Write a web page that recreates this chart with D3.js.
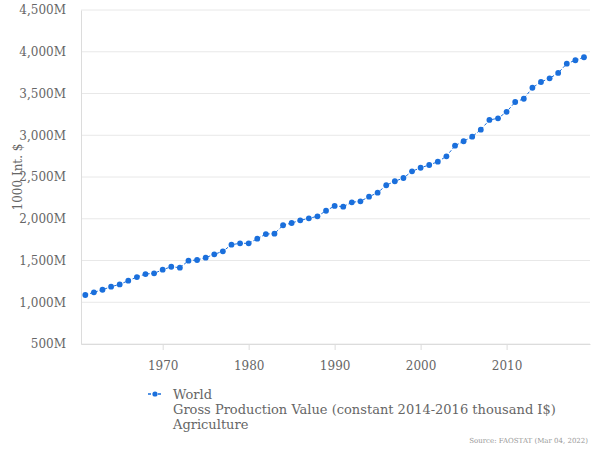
<!DOCTYPE html>
<html>
<head>
<meta charset="utf-8">
<script src="https://d3js.org/d3.v7.min.js"></script>
<style>
  body { margin: 0; background: #fff; }
  text { font-family: "DejaVu Serif", serif; }
</style>
</head>
<body>
<div id="chart"></div>
<script>
// Gross Production Value, World, Agriculture (million Int. $)
var years = d3.range(1961, 2020);
var values = [
  1087, 1119, 1150, 1186, 1214, 1258, 1302, 1338, 1346, 1390,
  1425, 1414, 1498, 1506, 1534, 1574, 1610, 1689, 1706, 1706,
  1761, 1817, 1821, 1922, 1949, 1981, 2005, 2029, 2096, 2153,
  2145, 2197, 2209, 2264, 2312, 2401, 2449, 2488, 2568, 2611,
  2644, 2683, 2748, 2875, 2928, 2983, 3067, 3183, 3203, 3280,
  3398, 3437, 3569, 3638, 3682, 3746, 3857, 3898, 3934
];
var yTicks = [500, 1000, 1500, 2000, 2500, 3000, 3500, 4000, 4500];
var xTicks = [1970, 1980, 1990, 2000, 2010];
var legendLines = ["World", "Gross Production Value (constant 2014-2016 thousand I$)", "Agriculture"];
var sourceText = "Source: FAOSTAT (Mar 04, 2022)";

var width = 600;
var height = 450;
var plotLeft = 81;
var plotRight = 590;
var plotTop = 10;
var plotBottom = 344;
var blue = "#1a6fdc";

var svg = d3.select("#chart")
  .append("svg")
  .attr("width", width)
  .attr("height", height);

// Scales
var xScale = d3.scaleLinear()
  .domain([1960.5, 2019.7])
  .range([plotLeft, plotRight]);
var yScale = d3.scaleLinear()
  .domain([500, 4500])
  .range([plotBottom, plotTop]);

// Gridlines
svg.append("g")
  .selectAll("line")
  .data(yTicks)
  .enter()
  .append("line")
  .attr("x1", plotLeft)
  .attr("x2", plotRight)
  .attr("y1", function(d) { return yScale(d); })
  .attr("y2", function(d) { return yScale(d); })
  .attr("stroke", "#e8e8e8")
  .attr("stroke-width", 1);

// Y axis
var yAxis = d3.axisLeft(yScale)
  .tickValues(yTicks)
  .tickSize(0)
  .tickPadding(15)
  .tickFormat(function(d) { return d3.format(",")(d) + "M"; });
var gy = svg.append("g")
  .attr("transform", "translate(" + plotLeft + ",0)")
  .call(yAxis);
gy.select(".domain").attr("stroke", "#dcdcdc");
gy.selectAll("text")
  .attr("fill", "#666")
  .style("font-size", "12px")
  .style("font-family", "DejaVu Serif");

// X axis
var xAxis = d3.axisBottom(xScale)
  .tickValues(xTicks)
  .tickSizeInner(6)
  .tickSizeOuter(0)
  .tickPadding(11)
  .tickFormat(d3.format("d"));
var gx = svg.append("g")
  .attr("transform", "translate(0," + plotBottom + ")")
  .call(xAxis);
gx.select(".domain").attr("stroke", "#dcdcdc");
gx.selectAll(".tick line").attr("stroke", "#dcdcdc");
gx.selectAll("text")
  .attr("fill", "#666")
  .style("font-size", "12px")
  .style("font-family", "DejaVu Serif");

// Y axis title
svg.append("text")
  .attr("transform", "translate(22," + ((plotTop + plotBottom) / 2) + ")rotate(-90)")
  .attr("text-anchor", "middle")
  .attr("fill", "#666")
  .style("font-size", "12px")
  .text("1000 Int. $");

// Line and points
var line = d3.line()
  .x(function(d, i) { return xScale(years[i]); })
  .y(function(d) { return yScale(d); });

svg.append("path")
  .datum(values)
  .attr("d", line)
  .attr("fill", "none")
  .attr("stroke", blue)
  .attr("stroke-width", 1)
  .attr("stroke-dasharray", "3,2");

svg.append("g")
  .selectAll("circle")
  .data(values)
  .enter()
  .append("circle")
  .attr("cx", function(d, i) { return xScale(years[i]); })
  .attr("cy", function(d) { return yScale(d); })
  .attr("r", 2.9)
  .attr("fill", blue);

// Legend
var legend = svg.append("g").attr("transform", "translate(148,394)");
legend.append("line")
  .attr("x1", 0)
  .attr("x2", 14)
  .attr("y1", 0)
  .attr("y2", 0)
  .attr("stroke", blue)
  .attr("stroke-width", 1.5)
  .attr("stroke-dasharray", "3,2");
legend.append("circle")
  .attr("cx", 7)
  .attr("cy", 0)
  .attr("r", 2.6)
  .attr("fill", blue);
legend.selectAll("text.leg")
  .data(legendLines)
  .enter()
  .append("text")
  .attr("class", "leg")
  .attr("x", 25)
  .attr("y", function(d, i) { return 5 + i * 15; })
  .attr("fill", "#666")
  .style("font-size", "13px")
  .text(function(d) { return d; });

// Source
svg.append("text")
  .attr("x", 588)
  .attr("y", 443)
  .attr("text-anchor", "end")
  .attr("fill", "#999")
  .style("font-size", "7px")
  .text(sourceText);
</script>
</body>
</html>
